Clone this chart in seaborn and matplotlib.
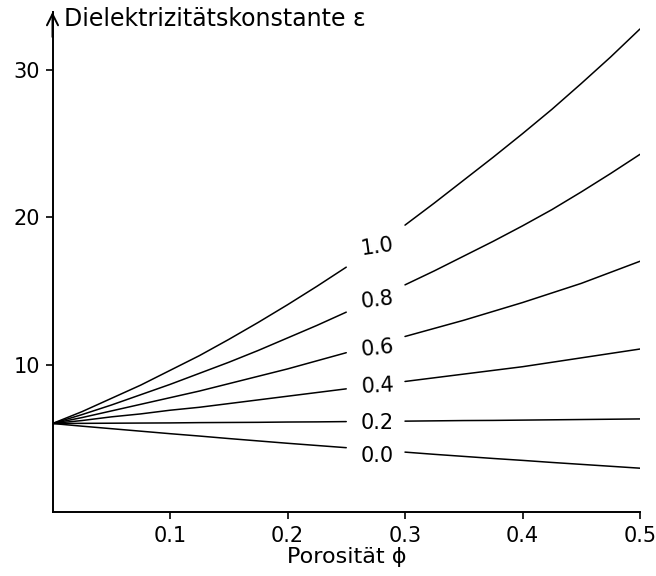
import numpy as np
import pandas as pd
import matplotlib
matplotlib.use("Agg")
import matplotlib.pyplot as plt
import seaborn as sns

porosity = [0.0, 0.025, 0.05, 0.075, 0.1, 0.125, 0.15, 0.175, 0.2, 0.225, 0.25,
            0.275, 0.3, 0.325, 0.35, 0.375, 0.4, 0.425, 0.45, 0.475, 0.5]

# curve parameter (label) and the read permittivity values
curve_labels = ["0.0", "0.2", "0.4", "0.6", "0.8", "1.0"]
eps_00 = [6.0, 5.82, 5.65, 5.48, 5.31, 5.15, 4.98, 4.82, 4.66, 4.51, 4.36,
          4.21, 4.06, 3.91, 3.77, 3.63, 3.5, 3.36, 3.23, 3.1, 2.97]
eps_02 = [6.0, 6.01, 6.02, 6.03, 6.04, 6.06, 6.07, 6.08, 6.1, 6.11, 6.13,
          6.14, 6.16, 6.18, 6.2, 6.21, 6.23, 6.25, 6.27, 6.29, 6.31]
eps_04 = [6.0, 6.2, 6.45, 6.65, 6.9, 7.1, 7.35, 7.6, 7.85, 8.1, 8.35,
          8.6, 8.85, 9.1, 9.35, 9.6, 9.85, 10.15, 10.45, 10.75, 11.05]
eps_06 = [6.0, 6.4, 6.85, 7.3, 7.75, 8.2, 8.7, 9.2, 9.7, 10.25, 10.8,
          11.35, 11.9, 12.45, 13.0, 13.6, 14.2, 14.85, 15.5, 16.25, 17.0]
eps_08 = [6.0, 6.6, 7.25, 7.95, 8.65, 9.4, 10.15, 10.95, 11.8, 12.65, 13.55,
          14.45, 15.4, 16.35, 17.35, 18.35, 19.4, 20.5, 21.7, 22.95, 24.25]
eps_10 = [6.0, 6.8, 7.7, 8.6, 9.6, 10.6, 11.7, 12.85, 14.05, 15.3, 16.6,
          18.0, 19.45, 20.95, 22.5, 24.05, 25.65, 27.3, 29.05, 30.85, 32.75]

x_ticks = [0.1, 0.2, 0.3, 0.4, 0.5]
x_tick_labels = ["0.1", "0.2", "0.3", "0.4", "0.5"]
y_ticks = [10, 20, 30]

all_curves = [eps_00, eps_02, eps_04, eps_06, eps_08, eps_10]

# each curve is broken where its label sits (between 0.25 and 0.3)
rows = []
for lab, vals in zip(curve_labels, all_curves):
    for p, v in zip(porosity, vals):
        if p <= 0.25:
            rows.append({"phi": p, "eps": v, "seg": lab + "_a"})
        if p >= 0.3:
            rows.append({"phi": p, "eps": v, "seg": lab + "_b"})
df = pd.DataFrame(rows)

sns.set_style("ticks")
plt.rcParams["font.family"] = ["DejaVu Sans"]
plt.rcParams.update({"text.color": "black", "axes.labelcolor": "black",
                     "xtick.color": "black", "ytick.color": "black"})

fig = plt.figure(figsize=(6.56, 5.76), dpi=100)
ax = fig.add_axes([52.5 / 656, 64 / 576, 587.5 / 656, 500 / 576])

sns.lineplot(data=df, x="phi", y="eps", units="seg", estimator=None,
             color="black", linewidth=1.1, ax=ax, legend=False)

ax.set_xlim(0, 0.5)
ax.set_ylim(0, 33.9)
sns.despine(ax=ax)
for side in ["left", "bottom"]:
    ax.spines[side].set_linewidth(1.4)
    ax.spines[side].set_color("black")

ax.set_xticks(x_ticks)
ax.set_xticklabels(x_tick_labels)
ax.set_yticks(y_ticks)
ax.tick_params(axis="both", direction="out", length=5, width=1.2,
               labelsize=15)
ax.tick_params(axis="x", pad=5)
ax.tick_params(axis="y", pad=4)

ax.set_xlabel("Porosität ϕ", fontsize=16, labelpad=1)
ax.set_ylabel("")

# arrow head on top of the y axis
ax.annotate("", xy=(0, 1.0), xytext=(0, 0.95), xycoords="axes fraction",
            arrowprops=dict(arrowstyle="->", lw=1.4, color="black",
                            mutation_scale=20, shrinkA=0, shrinkB=0))
fig.text(64 / 656, 1 - 19 / 576, "Dielektrizitätskonstante ε",
         fontsize=17, va="center", ha="left")

# curve labels in the gaps
label_y = [3.8, 6.05, 8.5, 11.1, 14.4, 18.0]
label_rot = [0, 0, 3, 6, 7, 8]
for lab, ly, rot in zip(curve_labels, label_y, label_rot):
    ax.text(0.2766, ly, lab, fontsize=15, ha="center", va="center",
            rotation=rot)

fig.savefig("out.png", dpi=100)
